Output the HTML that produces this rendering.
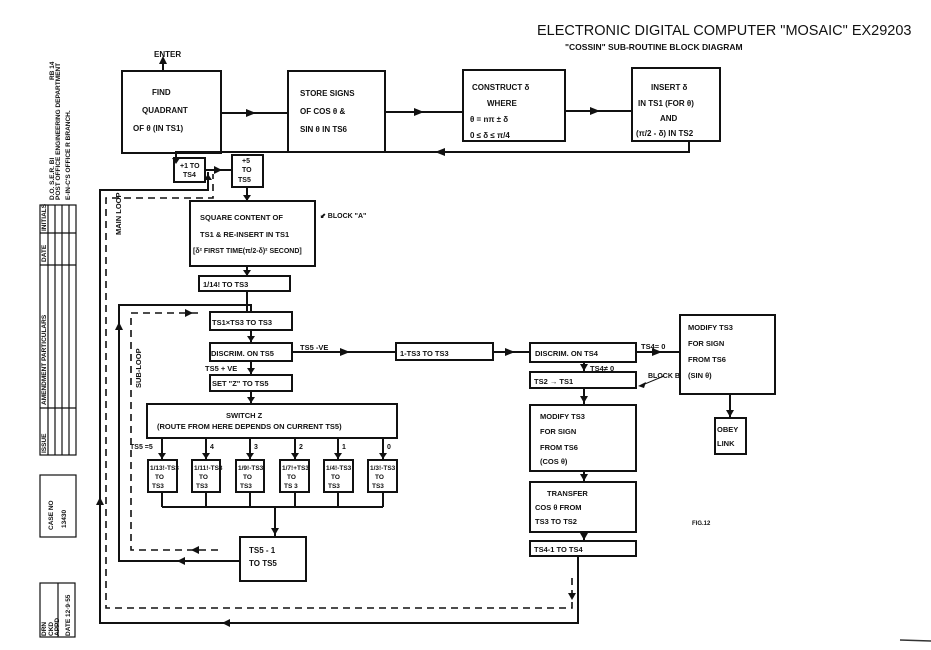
<!DOCTYPE html>
<html><head><meta charset="utf-8"><style>
html,body{margin:0;padding:0;background:#fff;}
svg{display:block;}
text{font-family:"Liberation Sans",sans-serif;font-weight:bold;fill:#111;}
</style></head><body>
<svg width="931" height="650" viewBox="0 0 931 650" xmlns="http://www.w3.org/2000/svg">
<g stroke="#111" stroke-width="2" fill="none">
<rect x="122" y="71" width="99" height="82"/>
<rect x="288" y="71" width="97" height="81"/>
<rect x="463" y="70" width="102" height="71"/>
<rect x="632" y="68" width="88" height="73"/>
<line x1="221" y1="113" x2="288" y2="113"/>
<line x1="385" y1="112" x2="463" y2="112"/>
<line x1="565" y1="111" x2="632" y2="111"/>
<line x1="163" y1="71" x2="163" y2="62"/>
<polyline points="689,141 689,152 176,152 176,158"/>
<rect x="174" y="158" width="31" height="24"/>
<rect x="232" y="155" width="31" height="32"/>
<line x1="205" y1="170" x2="232" y2="170"/>
<line x1="247" y1="187" x2="247" y2="201"/>
<rect x="190" y="201" width="125" height="65"/>
<line x1="247" y1="266" x2="247" y2="276"/>
<rect x="199" y="276" width="91" height="15"/>
<line x1="247" y1="291" x2="247" y2="312"/>
<rect x="210" y="312" width="82" height="18"/>
<line x1="251" y1="330" x2="251" y2="343"/>
<rect x="210" y="343" width="82" height="18"/>
<line x1="251" y1="361" x2="251" y2="375"/>
<rect x="210" y="375" width="82" height="16"/>
<line x1="251" y1="391" x2="251" y2="404"/>
<rect x="147" y="404" width="250" height="34"/>
<line x1="292" y1="352" x2="396" y2="352"/>
<rect x="396" y="343" width="97" height="17"/>
<line x1="493" y1="352" x2="530" y2="352"/>
<rect x="530" y="343" width="106" height="19"/>
<line x1="636" y1="352" x2="680" y2="352"/>
<rect x="680" y="315" width="95" height="79"/>
<line x1="730" y1="394" x2="730" y2="418"/>
<rect x="715" y="418" width="31" height="36"/>
<line x1="584" y1="362" x2="584" y2="372"/>
<rect x="530" y="372" width="106" height="16"/>
<line x1="584" y1="388" x2="584" y2="405"/>
<rect x="530" y="405" width="106" height="66"/>
<line x1="584" y1="471" x2="584" y2="482"/>
<rect x="530" y="482" width="106" height="50"/>
<line x1="584" y1="532" x2="584" y2="541"/>
<rect x="530" y="541" width="106" height="15"/>
<rect x="148" y="460" width="29" height="32"/>
<rect x="192" y="460" width="28" height="32"/>
<rect x="236" y="460" width="28" height="32"/>
<rect x="280" y="460" width="29" height="32"/>
<rect x="324" y="460" width="29" height="32"/>
<rect x="368" y="460" width="29" height="32"/>
<line x1="162" y1="438" x2="162" y2="460"/><line x1="206" y1="438" x2="206" y2="460"/>
<line x1="250" y1="438" x2="250" y2="460"/><line x1="295" y1="438" x2="295" y2="460"/>
<line x1="338" y1="438" x2="338" y2="460"/><line x1="383" y1="438" x2="383" y2="460"/>
<line x1="162" y1="492" x2="162" y2="507"/><line x1="206" y1="492" x2="206" y2="507"/>
<line x1="250" y1="492" x2="250" y2="507"/><line x1="295" y1="492" x2="295" y2="507"/>
<line x1="338" y1="492" x2="338" y2="507"/><line x1="383" y1="492" x2="383" y2="507"/>
<line x1="162" y1="507" x2="383" y2="507"/>
<line x1="275" y1="507" x2="275" y2="537"/>
<rect x="240" y="537" width="66" height="44"/>
<polyline points="240,561 119,561 119,305 251,305 251,312"/>
<polyline points="578,556 578,623 100,623 100,190 208,190 208,172"/>
</g>
<g stroke="#111" stroke-width="1.6" fill="none" stroke-dasharray="7,5">
<polyline points="218,550 131,550 131,313 200,313"/>
<polyline points="572,578 572,608 106,608 106,198 213,198 213,174"/>
</g>
<g fill="#111">
<path d="M159,64 L163,56 L167,64z"/>
<path d="M246,109 L256,113 L246,117z"/><path d="M414,108 L424,112 L414,116z"/><path d="M590,107 L600,111 L590,115z"/>
<path d="M445,148 L435,152 L445,156z"/>
<path d="M172,158 L176,164 L180,158z"/>
<path d="M214,166 L222,170 L214,174z"/>
<path d="M243,195 L247,201 L251,195z"/>
<path d="M243,270 L247,276 L251,270z"/>
<path d="M247,336 L251,342 L255,336z"/><path d="M247,368 L251,374 L255,368z"/><path d="M247,397 L251,403 L255,397z"/>
<path d="M340,348 L350,352 L340,356z"/><path d="M505,348 L515,352 L505,356z"/><path d="M652,348 L662,352 L652,356z"/>
<path d="M726,410 L730,417 L734,410z"/>
<path d="M580,364 L584,371 L588,364z"/><path d="M580,396 L584,403 L588,396z"/><path d="M580,474 L584,481 L588,474z"/><path d="M580,533 L584,540 L588,533z"/>
<path d="M158,453 L162,459 L166,453z"/><path d="M202,453 L206,459 L210,453z"/><path d="M246,453 L250,459 L254,453z"/><path d="M291,453 L295,459 L299,453z"/><path d="M334,453 L338,459 L342,453z"/><path d="M379,453 L383,459 L387,453z"/>
<path d="M271,528 L275,535 L279,528z"/>
<path d="M115,330 L119,322 L123,330z"/>
<path d="M96,505 L100,497 L104,505z"/>
<path d="M185,557 L177,561 L185,565z"/>
<path d="M230,619 L222,623 L230,627z"/>
<path d="M185,309 L193,313 L185,317z"/>
<path d="M199,546 L191,550 L199,554z"/>
<path d="M568,593 L572,600 L576,593z"/>
<path d="M204,180 L208,174 L212,180z"/>
<path d="M646,382 L638,386 L644,388z"/>
</g>
<line x1="664" y1="376" x2="640" y2="386" stroke="#111" stroke-width="1"/>
<g font-size="8">
<text x="154" y="57">ENTER</text>
<text x="152" y="95">FIND</text><text x="142" y="113">QUADRANT</text><text x="133" y="131">OF θ  (IN TS1)</text>
<text x="300" y="96">STORE  SIGNS</text><text x="300" y="114">OF  COS θ  &amp;</text><text x="300" y="132">SIN θ    IN  TS6</text>
<text x="472" y="90">CONSTRUCT  δ</text><text x="487" y="106">WHERE</text><text x="470" y="122">θ = nπ ± δ</text><text x="470" y="138">0 ≤ δ ≤ π/4</text>
<text x="651" y="90">INSERT   δ</text><text x="638" y="106">IN TS1 (FOR θ)</text><text x="660" y="121">AND</text><text x="636" y="136">(π/2 - δ)  IN  TS2</text>
<text x="180" y="168" font-size="7">+1 TO</text><text x="183" y="177" font-size="7">TS4</text>
<text x="242" y="163" font-size="7">+5</text><text x="242" y="172" font-size="7">TO</text><text x="238" y="182" font-size="7">TS5</text>
<text x="200" y="220" font-size="7.5">SQUARE CONTENT  OF</text>
<text x="200" y="237" font-size="7.5">TS1 &amp; RE-INSERT IN TS1</text>
<text x="193" y="253" font-size="7">[δ² FIRST TIME(π/2-δ)² SECOND]</text>
<text x="320" y="218" font-size="7">⬋ BLOCK "A"</text>
<text x="203" y="287" font-size="7.5">1/14!  TO  TS3</text>
<text x="212" y="325" font-size="7.5">TS1×TS3  TO  TS3</text>
<text x="211" y="356" font-size="7.5">DISCRIM. ON  TS5</text>
<text x="300" y="350" font-size="7.5">TS5 -VE</text>
<text x="205" y="371" font-size="7.5">TS5 + VE</text>
<text x="212" y="386" font-size="7.5">SET "Z"  TO  TS5</text>
<text x="226" y="418" font-size="7.5">SWITCH  Z</text>
<text x="157" y="429" font-size="7.5">(ROUTE FROM HERE DEPENDS ON CURRENT  TS5)</text>
<text x="400" y="356" font-size="7.5">1-TS3  TO  TS3</text>
<text x="535" y="356" font-size="7.5">DISCRIM. ON  TS4</text>
<text x="641" y="349" font-size="7.5">TS4= 0</text>
<text x="590" y="371" font-size="7.5">TS4≠ 0</text>
<text x="534" y="384" font-size="7.5">TS2  →   TS1</text>
<text x="648" y="378" font-size="7">BLOCK B</text>
<text x="540" y="419" font-size="7.5">MODIFY   TS3</text><text x="540" y="434" font-size="7.5">FOR  SIGN</text><text x="540" y="450" font-size="7.5">FROM   TS6</text><text x="540" y="464" font-size="7.5">(COS  θ)</text>
<text x="547" y="496" font-size="7.5">TRANSFER</text><text x="535" y="510" font-size="7.5">COS  θ  FROM</text><text x="535" y="524" font-size="7.5">TS3  TO  TS2</text>
<text x="534" y="552" font-size="7.5">TS4-1  TO  TS4</text>
<text x="688" y="330" font-size="7.5">MODIFY  TS3</text><text x="688" y="346" font-size="7.5">FOR  SIGN</text><text x="688" y="362" font-size="7.5">FROM  TS6</text><text x="688" y="378" font-size="7.5">(SIN  θ)</text>
<text x="717" y="432" font-size="7.5">OBEY</text><text x="717" y="446" font-size="7.5">LINK</text>
<text x="692" y="525" font-size="6">FIG.12</text>
<text x="130" y="449" font-size="7">TS5 =5</text>
<text x="210" y="449" font-size="7">4</text><text x="254" y="449" font-size="7">3</text><text x="299" y="449" font-size="7">2</text><text x="342" y="449" font-size="7">1</text><text x="387" y="449" font-size="7">0</text>
<g font-size="6.5">
<text x="150" y="470">1/13!-TS3</text><text x="155" y="479">TO</text><text x="152" y="488">TS3</text>
<text x="194" y="470">1/11!-TS3</text><text x="199" y="479">TO</text><text x="196" y="488">TS3</text>
<text x="238" y="470">1/9!-TS3</text><text x="243" y="479">TO</text><text x="240" y="488">TS3</text>
<text x="282" y="470">1/7!+TS3</text><text x="287" y="479">TO</text><text x="284" y="488">TS 3</text>
<text x="326" y="470">1/4!-TS3</text><text x="331" y="479">TO</text><text x="328" y="488">TS3</text>
<text x="370" y="470">1/3!-TS3</text><text x="375" y="479">TO</text><text x="372" y="488">TS3</text>
</g>
<text x="249" y="553" font-size="8">TS5 - 1</text>
<text x="249" y="566" font-size="8">TO  TS5</text>
<text transform="translate(121,235) rotate(-90)" font-size="7.5">MAIN LOOP</text>
<text transform="translate(141,388) rotate(-90)" font-size="7.5">SUB-LOOP</text>
</g>
<text x="537" y="35" font-size="14.5" style="font-weight:normal">ELECTRONIC DIGITAL COMPUTER "MOSAIC" EX29203</text>
<text x="565" y="50" font-size="8.5">"COSSIN" SUB-ROUTINE BLOCK DIAGRAM</text>
<g stroke="#111" stroke-width="1.2" fill="none">
<rect x="40" y="205" width="36" height="250"/>
<line x1="48" y1="205" x2="48" y2="455"/><line x1="55" y1="205" x2="55" y2="455"/><line x1="62" y1="205" x2="62" y2="455"/><line x1="69" y1="205" x2="69" y2="455"/>
<line x1="40" y1="233" x2="76" y2="233"/><line x1="40" y1="265" x2="76" y2="265"/><line x1="40" y1="408" x2="76" y2="408"/>
<rect x="40" y="475" width="36" height="62"/>
<rect x="40" y="583" width="35" height="54"/>
<line x1="58" y1="583" x2="58" y2="637"/>
</g>
<g font-size="6.5">
<text transform="translate(46,453) rotate(-90)">ISSUE</text>
<text transform="translate(46,405) rotate(-90)">AMENDMENT  PARTICULARS</text>
<text transform="translate(46,262) rotate(-90)">DATE</text>
<text transform="translate(46,231) rotate(-90)">INITIALS</text>
<text transform="translate(54,200) rotate(-90)">D.O.  S.E.R. BI</text>
<text transform="translate(60,200) rotate(-90)">POST OFFICE ENGINEERING DEPARTMENT</text>
<text transform="translate(54,80) rotate(-90)">RB 14</text>
<text transform="translate(70,200) rotate(-90)">E-IN-C'S OFFICE  R  BRANCH.</text>
<text transform="translate(53,530) rotate(-90)">CASE NO</text>
<text transform="translate(66,528) rotate(-90)">13430</text>
<text transform="translate(46,636) rotate(-90)">DRN</text>
<text transform="translate(53,636) rotate(-90)">CKD</text>
<text transform="translate(59,636) rotate(-90)">APPD</text>
<text transform="translate(70,636) rotate(-90)">DATE 12·9·55</text>
</g>
<line x1="900" y1="640" x2="931" y2="641" stroke="#333" stroke-width="1.5"/>
</svg>
</body></html>
